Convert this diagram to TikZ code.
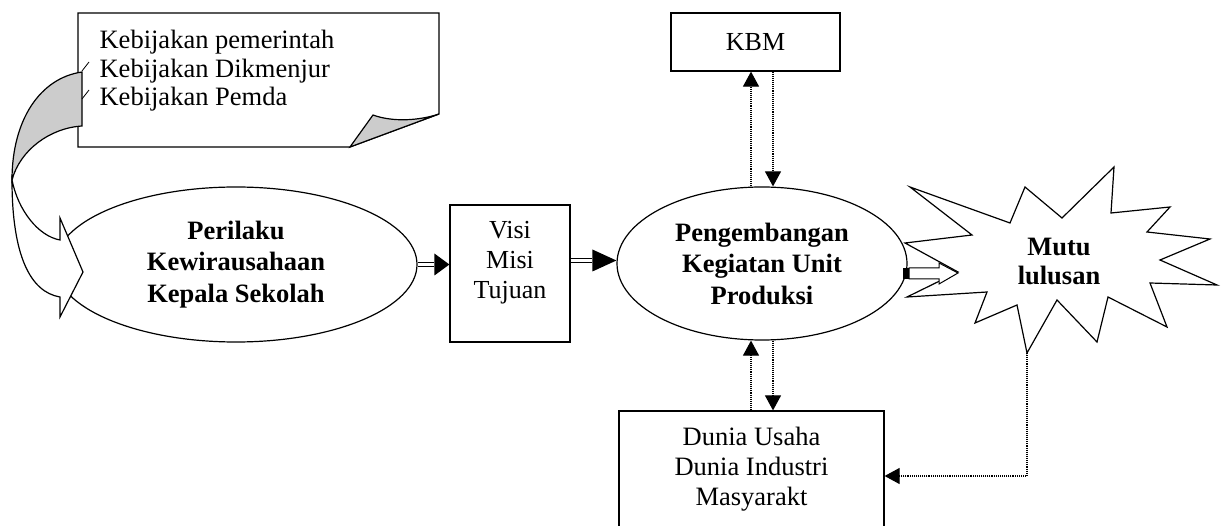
\documentclass[tikz,border=0pt]{standalone}
\usepackage{fontspec}
\setmainfont{Liberation Serif}
\usetikzlibrary{shapes.geometric,arrows.meta,calc}
\definecolor{foldgray}{RGB}{204,204,204}
\begin{document}
\begin{tikzpicture}[x=1pt,y=-1pt,line width=1.2pt,
  every node/.style={inner sep=0pt,font=\fontsize{26.5}{30}\selectfont},
  bold/.style={font=\fontsize{26.5}{31.5}\selectfont\bfseries},
  box/.style={draw,rectangle,fill=white},
  oval/.style={draw,ellipse,fill=white,align=center},
  shade/.style={draw,fill=foldgray},
  dotarrow/.style={densely dotted,line width=1.1pt,-{Triangle[length=15pt,width=16pt]}},
  dblline/.style={double,double distance=3.3pt,line width=1.1pt}]
\useasboundingbox (0,0) rectangle (1226,526);
\clip (0,0) rectangle (1226,526);

% policy callout box with folded corner
\draw[fill=white] (78,13) -- (439,13) -- (439,114) -- (350,147) -- (78,147) -- cycle;
\draw[shade] (350,147) -- (373,115) .. controls (392,122) and (418,121) .. (439,114) -- cycle;
\node[anchor=north west,align=left,font=\fontsize{26.5}{28.5}\selectfont] (keb) at (99,30)
  {Kebijakan pemerintah\\Kebijakan Dikmenjur\\Kebijakan Pemda};

% main ellipses and boxes
\node[oval,bold,minimum width=362,minimum height=155] (peril) at (236,264.5)
  {Perilaku\\Kewirausahaan\\Kepala Sekolah};
\node[box,minimum width=120,minimum height=137] (visi) at (510,273.5) {};
\node[align=center,font=\fontsize{26}{30}\selectfont] (visitext) at (510,263) {Visi\\Misi\\Tujuan};
\node[oval,bold,minimum width=290,minimum height=153] (peng) at (762,263.5)
  {Pengembangan\\Kegiatan Unit\\Produksi};
\node[box,minimum width=169,minimum height=58,font=\fontsize{26}{30}\selectfont] (kbm) at (755.5,42) {KBM};
\node[box,align=center,minimum width=265,minimum height=116] (dunia) at (751.5,469)
  {Dunia Usaha\\Dunia Industri\\Masyarakt};

% curved arrow (feedback from policies)
\draw[shade] (82,72) .. controls (40,78) and (12,120) .. (12,180)
  .. controls (20,150) and (50,128) .. (82,126) -- cycle;
\draw[fill=white] (12,180) .. controls (12,255) and (30,292) .. (60,297)
  -- (60,317) -- (83,272) -- (60,218) -- (60,240)
  .. controls (38,236) and (18,210) .. (12,180) -- cycle;
\draw[line width=0.8pt] (82,71) -- (89,62) (82,99) -- (89,90);

% explosion shape
\draw[fill=white] (910,187) -- (1010,223) -- (1025,187) -- (1062,218) -- (1114,167)
  -- (1111,213) -- (1170,207) -- (1147,232) -- (1210,239) -- (1160,260) -- (1217,285)
  -- (1150,283) -- (1167,327) -- (1108,297) -- (1097,342) -- (1057,300) -- (1027,353)
  -- (1017,305) -- (975,323) -- (987,292) -- (907,297) -- (958,272) -- (905,243)
  -- (972,235) -- cycle;
\coordinate (starbot) at (1027,353);
\node[align=center,font=\fontsize{26.5}{29}\selectfont\bfseries] (mutu) at (1059,261) {Mutu\\lulusan};

% hollow block arrow
\draw[fill=white,line width=1pt] (909,268) -- (939,268) -- (939,263) -- (958,273)
  -- (939,284) -- (939,279) -- (909,279) -- cycle;
\fill (903,268) rectangle (909,279);

% double-line arrows
\draw[dblline] (peril.east) -- ([xshift=-15]peril.east -| visi.west);
\fill (peril.east -| visi.west) -- ++(-15,-11) -- ++(0,22) -- cycle;
\coordinate (a2) at ([yshift=3]peng.west);
\draw[dblline] (visi.east |- a2) -- ([xshift=-24]a2);
\fill (a2) -- ++(-24,-11) -- ++(0,22) -- cycle;

% dotted arrows
\draw[dotarrow] ([xshift=-11]peng.north) -- ([xshift=-11]peng.north |- kbm.south);
\draw[dotarrow] ([xshift=11]peng.north |- kbm.south) -- ([xshift=11]peng.north);
\draw[dotarrow] ([xshift=-11]peng.south |- dunia.north) -- ([xshift=-11]peng.south);
\draw[dotarrow] ([xshift=11]peng.south) -- ([xshift=11]peng.south |- dunia.north);
\draw[dotarrow] (starbot) |- ([yshift=-7]dunia.east);
\end{tikzpicture}
\end{document}
